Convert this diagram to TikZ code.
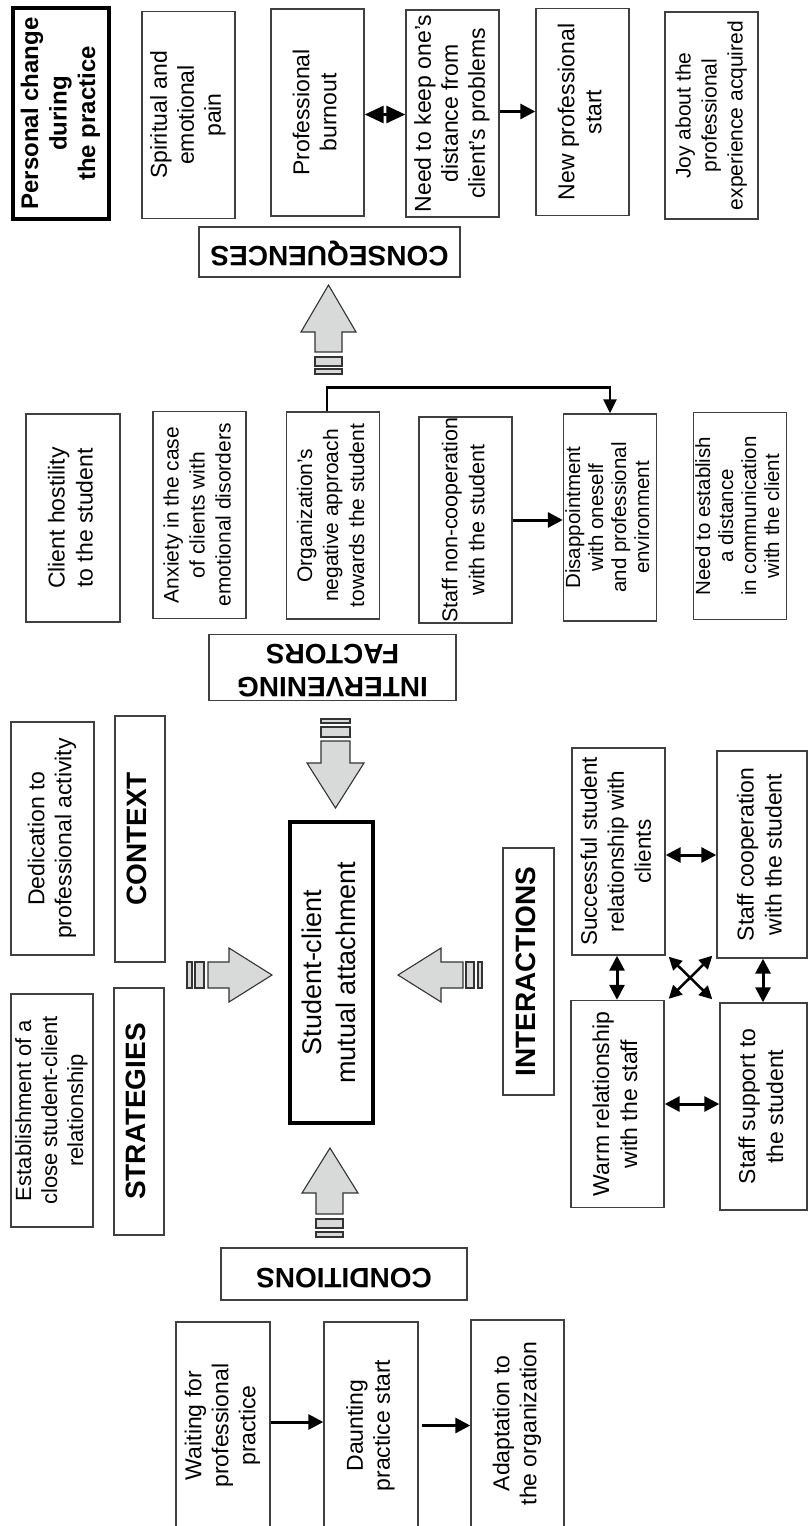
\documentclass[tikz,border=0pt]{standalone}
\usepackage{fontspec}
\setmainfont{Liberation Sans}
\usepackage{graphicx}
\usetikzlibrary{arrows.meta}
\definecolor{arrgray}{RGB}{216,218,218}
\newcommand{\myvt}[3]{\rotatebox{90}{\fontsize{#1}{#2}\selectfont\begin{tabular}{@{}c@{}}#3\end{tabular}}}
\newcommand{\myvb}[3]{\rotatebox{90}{\fontsize{#1}{#2}\selectfont\bfseries\begin{tabular}{@{}c@{}}#3\end{tabular}}}
\newcommand{\myut}[3]{\rotatebox{180}{\fontsize{#1}{#2}\selectfont\bfseries\begin{tabular}{@{}c@{}}#3\end{tabular}}}
\begin{document}
\begin{tikzpicture}[x=1pt,y=-1pt,
  box/.style={draw=black!75, line width=1.4pt, inner sep=0pt, minimum width=93pt, minimum height=207pt},
  heavybox/.style={box, draw=black, line width=4pt},
  lbl/.style={draw=black!75, line width=1.4pt, inner sep=0pt},
  arr/.style={line width=3pt, -{Triangle[length=15pt,width=15pt]}},
  darr/.style={line width=3pt, {Triangle[length=15pt,width=15pt]}-{Triangle[length=15pt,width=15pt]}},
  bigdarr/.style={line width=3pt, {Triangle[length=19pt,width=17pt]}-{Triangle[length=19pt,width=17pt]}},
  xarr/.style={line width=2.5pt, {Triangle[length=13pt,width=13pt]}-{Triangle[length=13pt,width=13pt]}},
  blk/.style={draw=black!80, line width=1.1pt, fill=arrgray, line join=miter}]
\useasboundingbox (0,0) rectangle (809,1526);

% top row
\node[heavybox, minimum width=96pt, minimum height=211pt] (pc) at (61,113.5) {\myvb{24}{28.5}{Personal change\\during\\the practice}};
\node[box] (sp) at (188.5,115) {\myvt{23}{27}{Spiritual and\\emotional\\pain}};
\node[box] (pb) at (317.5,112.5) {\myvt{23}{27}{Professional\\burnout}};
\node[box] (nk) at (452.5,113.5) {\myvt{23}{27}{Need to keep one’s\\distance from\\client’s problems}};
\node[box] (ns) at (582.5,112) {\myvt{23}{27}{New professional\\start}};
\node[box] (joy) at (711.5,115.5) {\myvt{21}{26}{Joy about the\\professional\\experience acquired}};
\draw[bigdarr] ([yshift=-2pt]pb.east) -- ([yshift=-2pt]pb.east -| nk.west);
\draw[arr] ([yshift=2pt]nk.east) -- ([yshift=2pt]nk.east -| ns.west);

\node[lbl, minimum width=261pt, minimum height=50pt] (cons) at (329.5,252) {\myut{28}{30}{CONSEQUENCES}};

% intervening row
\node[box, minimum width=94pt, minimum height=208pt] (ch) at (73,518) {\myvt{23}{28}{Client hostility\\to the student}};
\node[box] (ax) at (199.5,515) {\myvt{21}{26}{Anxiety in the case\\of clients with\\emotional disorders}};
\node[box] (org) at (333,515.5) {\myvt{21}{26}{Organization’s\\negative approach\\towards the student}};
\node[box, minimum height=206pt] (snc) at (465.5,520) {\myvt{21.5}{27}{Staff non-cooperation\\with the student}};
\node[box] (dis) at (610,517.5) {\myvt{20.5}{23}{Disappointment\\with oneself\\and professional\\environment}};
\node[box] (nte) at (740,516) {\myvt{20.5}{23}{Need to establish\\a distance\\in communication\\with the client}};
\draw[line width=2.5pt, -{Triangle[length=14pt,width=13pt]}] ([xshift=-6pt]org.north) -- ++(0,-24) -| (dis.north);
\draw[arr] (snc.east) -- (snc.east -| dis.west);

\node[lbl, minimum width=247pt, minimum height=63pt] (intf) at (332.5,667.5) {\myut{28}{33}{INTERVENING\\FACTORS}};

% left column
\node[box, minimum width=83pt, minimum height=233pt] (ded) at (52.5,838.5) {\myvt{23}{27}{Dedication to\\professional activity}};
\node[lbl, minimum width=50pt, minimum height=246pt] (ctx) at (140,839) {\myvb{28}{33}{CONTEXT}};
\node[box, minimum width=82pt, minimum height=233pt] (est) at (52,1110.5) {\myvt{22}{26}{Establishment of a\\close student-client\\relationship}};
\node[lbl, minimum width=50pt, minimum height=247pt] (str) at (139,1111.5) {\myvb{28}{33}{STRATEGIES}};

% centre
\node[heavybox, minimum width=83pt, minimum height=301pt] (sc) at (331.5,972.5) {\myvt{27}{34}{Student-client\\mutual attachment}};
\node[lbl, minimum width=51pt, minimum height=247pt] (inter) at (528.5,971.5) {\myvb{28}{33}{INTERACTIONS}};

% interactions
\node[box] (suc) at (618.5,851.5) {\myvt{22.5}{27}{Successful student\\relationship with\\clients}};
\node[box, minimum width=90pt] (sco) at (762,854.5) {\myvt{23}{28}{Staff cooperation\\with the student}};
\node[box] (war) at (617.5,1104) {\myvt{23}{28}{Warm relationship\\with the staff}};
\node[box, minimum width=87pt] (ssu) at (763.5,1106.5) {\myvt{23}{28}{Staff support to\\the student}};
\draw[darr] ([yshift=-3.5pt]suc.east) -- ([yshift=-3.5pt]suc.east -| sco.west);
\draw[darr] (war.east) -- (war.east -| ssu.west);
\draw[darr] ([xshift=-1.5pt]suc.south) -- ([xshift=-1.5pt]suc.south |- war.north);
\draw[darr] ([xshift=1pt]sco.south) -- ([xshift=1pt]sco.south |- ssu.north);
\draw[xarr] ([shift={(3pt,-1pt)}]suc.south east) -- ([shift={(-7pt,3pt)}]ssu.north west);
\draw[xarr] ([shift={(-4pt,3pt)}]sco.south west) -- ([shift={(4pt,1pt)}]war.north east);

% conditions
\node[lbl, minimum width=246pt, minimum height=52pt] (cond) at (344,1274) {\myut{28}{30}{CONDITIONS}};
\node[box, minimum width=94pt] (wai) at (223,1425.5) {\myvt{23}{27}{Waiting for\\professional\\practice}};
\node[box, minimum width=94pt] (dau) at (371,1425.5) {\myvt{23}{27}{Daunting\\practice start}};
\node[box] (ada) at (517.5,1423.5) {\myvt{23}{27}{Adaptation to\\the organization}};
\draw[arr] ([yshift=3.5pt]wai.east) -- ([yshift=3.5pt]dau.west);
\draw[arr] ([xshift=3pt]dau.east) -- (dau.east -| ada.west);

% block arrows
\draw[blk] (315,352) -- (315,332) -- (301,332) -- (328.5,285) -- (356,332) -- (342,332) -- (342,352) -- cycle;
\draw[blk] (315,357) rectangle (342,366);
\draw[blk] (315,369) rectangle (342,374);

\draw[blk] (321,741) -- (321,763) -- (307,763) -- (335.5,808) -- (364,763) -- (350,763) -- (350,741) -- cycle;
\draw[blk] (321,727) rectangle (350,737);
\draw[blk] (321,719) rectangle (350,723);

\draw[blk] (208,962) -- (229,962) -- (229,948) -- (272,975) -- (229,1002) -- (229,988) -- (208,988) -- cycle;
\draw[blk] (195,962) rectangle (204,988);
\draw[blk] (187,962) rectangle (192,988);

\draw[blk] (463,962) -- (441,962) -- (441,948) -- (398,975) -- (441,1002) -- (441,988) -- (463,988) -- cycle;
\draw[blk] (466,962) rectangle (474,988);
\draw[blk] (478,962) rectangle (482,988);

\draw[blk] (316,1214) -- (316,1193) -- (302,1193) -- (330,1148) -- (358,1193) -- (343,1193) -- (343,1214) -- cycle;
\draw[blk] (316,1219) rectangle (343,1228);
\draw[blk] (316,1232) rectangle (343,1237);
\end{tikzpicture}
\end{document}
